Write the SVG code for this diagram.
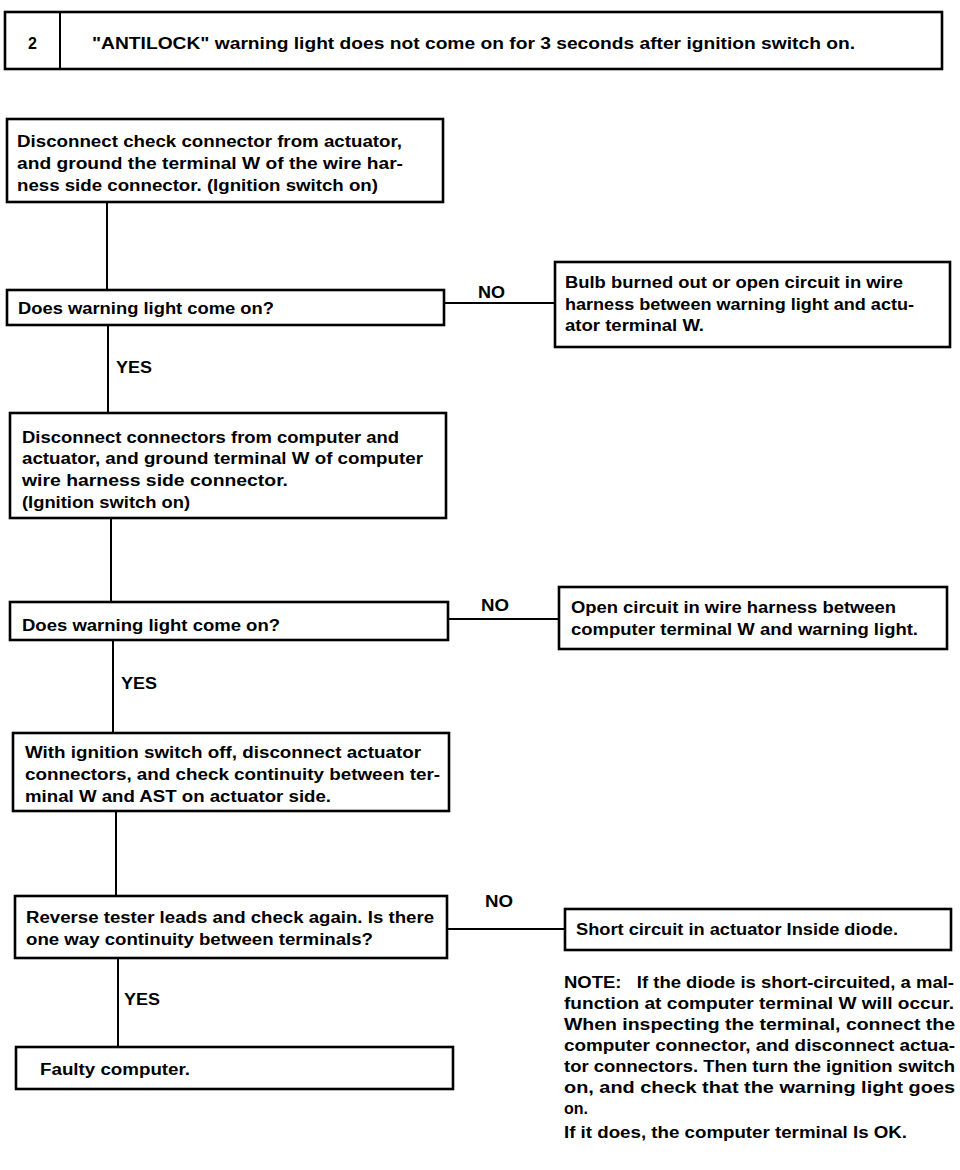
<svg xmlns="http://www.w3.org/2000/svg" width="960" height="1170" viewBox="0 0 960 1170">
<style>
.box{fill:#fff;stroke:#000;stroke-width:2.6}
.ln{stroke:#000;stroke-width:2;fill:none}
text{font-family:"Liberation Sans",Arial,sans-serif;font-weight:bold;font-size:16px;fill:#000}
</style>
<rect width="960" height="1170" fill="#fff"/>
<g id="connectors">
<line class="ln" x1="107" y1="202" x2="107" y2="290"/>
<line class="ln" x1="444" y1="303" x2="555" y2="303"/>
<line class="ln" x1="108" y1="325" x2="108" y2="413"/>
<line class="ln" x1="111" y1="518" x2="111" y2="602"/>
<line class="ln" x1="448" y1="619" x2="559" y2="619"/>
<line class="ln" x1="113" y1="640" x2="113" y2="733"/>
<line class="ln" x1="116" y1="811" x2="116" y2="896"/>
<line class="ln" x1="447" y1="929" x2="565" y2="929"/>
<line class="ln" x1="118" y1="958" x2="118" y2="1047"/>
<text x="478" y="298" textLength="27" lengthAdjust="spacingAndGlyphs">NO</text>
<text x="116" y="373" textLength="36" lengthAdjust="spacingAndGlyphs">YES</text>
<text x="481" y="611" textLength="28" lengthAdjust="spacingAndGlyphs">NO</text>
<text x="121" y="689" textLength="36" lengthAdjust="spacingAndGlyphs">YES</text>
<text x="485" y="907" textLength="28" lengthAdjust="spacingAndGlyphs">NO</text>
<text x="124" y="1005" textLength="36" lengthAdjust="spacingAndGlyphs">YES</text>
</g>
<g id="header">
<rect class="box" x="5" y="12" width="937" height="57"/>
<line class="ln" x1="60" y1="12" x2="60" y2="69" stroke-width="2.6"/>
<text x="28" y="49">2</text>
<text x="92" y="49" textLength="763" lengthAdjust="spacingAndGlyphs">"ANTILOCK" warning light does not come on for 3 seconds after ignition switch on.</text>
</g>
<g id="step1">
<rect class="box" x="7" y="119" width="436" height="83"/>
<text x="17" y="147" textLength="385" lengthAdjust="spacingAndGlyphs">Disconnect check connector from actuator,</text>
<text x="17" y="169" textLength="386" lengthAdjust="spacingAndGlyphs">and ground the terminal W of the wire har-</text>
<text x="17" y="191" textLength="361" lengthAdjust="spacingAndGlyphs">ness side connector. (Ignition switch on)</text>
</g>
<g id="decision1">
<rect class="box" x="7" y="290" width="437" height="35"/>
<text x="18" y="314" textLength="256" lengthAdjust="spacingAndGlyphs">Does warning light come on?</text>
</g>
<g id="result1">
<rect class="box" x="555" y="262" width="395" height="85"/>
<text x="565" y="288" textLength="338" lengthAdjust="spacingAndGlyphs">Bulb burned out or open circuit in wire</text>
<text x="565" y="310" textLength="349" lengthAdjust="spacingAndGlyphs">harness between warning light and actu-</text>
<text x="565" y="331" textLength="139" lengthAdjust="spacingAndGlyphs">ator terminal W.</text>
</g>
<g id="step2">
<rect class="box" x="10" y="413" width="436" height="105"/>
<text x="22" y="443" textLength="377" lengthAdjust="spacingAndGlyphs">Disconnect connectors from computer and</text>
<text x="22" y="464" textLength="401" lengthAdjust="spacingAndGlyphs">actuator, and ground terminal W of computer</text>
<text x="22" y="486" textLength="266" lengthAdjust="spacingAndGlyphs">wire harness side connector.</text>
<text x="22" y="508" textLength="168" lengthAdjust="spacingAndGlyphs">(Ignition switch on)</text>
</g>
<g id="decision2">
<rect class="box" x="10" y="602" width="438" height="38"/>
<text x="22" y="631" textLength="258" lengthAdjust="spacingAndGlyphs">Does warning light come on?</text>
</g>
<g id="result2">
<rect class="box" x="559" y="587" width="388" height="62"/>
<text x="571" y="613" textLength="325" lengthAdjust="spacingAndGlyphs">Open circuit in wire harness between</text>
<text x="571" y="635" textLength="347" lengthAdjust="spacingAndGlyphs">computer terminal W and warning light.</text>
</g>
<g id="step3">
<rect class="box" x="13" y="733" width="436" height="78"/>
<text x="25" y="758" textLength="396" lengthAdjust="spacingAndGlyphs">With ignition switch off, disconnect actuator</text>
<text x="25" y="780" textLength="415" lengthAdjust="spacingAndGlyphs">connectors, and check continuity between ter-</text>
<text x="25" y="802" textLength="306" lengthAdjust="spacingAndGlyphs">minal W and AST on actuator side.</text>
</g>
<g id="decision3">
<rect class="box" x="15" y="896" width="432" height="62"/>
<text x="26" y="923" textLength="408" lengthAdjust="spacingAndGlyphs">Reverse tester leads and check again. Is there</text>
<text x="26" y="945" textLength="347" lengthAdjust="spacingAndGlyphs">one way continuity between terminals?</text>
</g>
<g id="result3">
<rect class="box" x="565" y="909" width="386" height="41"/>
<text x="576" y="935" textLength="322" lengthAdjust="spacingAndGlyphs">Short circuit in actuator Inside diode.</text>
</g>
<g id="result4">
<rect class="box" x="16" y="1047" width="437" height="42"/>
<text x="40" y="1075" textLength="150" lengthAdjust="spacingAndGlyphs">Faulty computer.</text>
</g>
<g id="note">
<text x="564" y="988" textLength="390" lengthAdjust="spacingAndGlyphs" xml:space="preserve">NOTE:   If the diode is short-circuited, a mal-</text>
<text x="564" y="1009" textLength="390" lengthAdjust="spacingAndGlyphs">function at computer terminal W will occur.</text>
<text x="564" y="1030" textLength="391" lengthAdjust="spacingAndGlyphs">When inspecting the terminal, connect the</text>
<text x="564" y="1051" textLength="391" lengthAdjust="spacingAndGlyphs">computer connector, and disconnect actua-</text>
<text x="564" y="1072" textLength="391" lengthAdjust="spacingAndGlyphs">tor connectors. Then turn the ignition switch</text>
<text x="564" y="1093" textLength="391" lengthAdjust="spacingAndGlyphs">on, and check that the warning light goes</text>
<text x="564" y="1114">on.</text>
<text x="564" y="1138" textLength="343" lengthAdjust="spacingAndGlyphs">If it does, the computer terminal Is OK.</text>
</g>
</svg>
